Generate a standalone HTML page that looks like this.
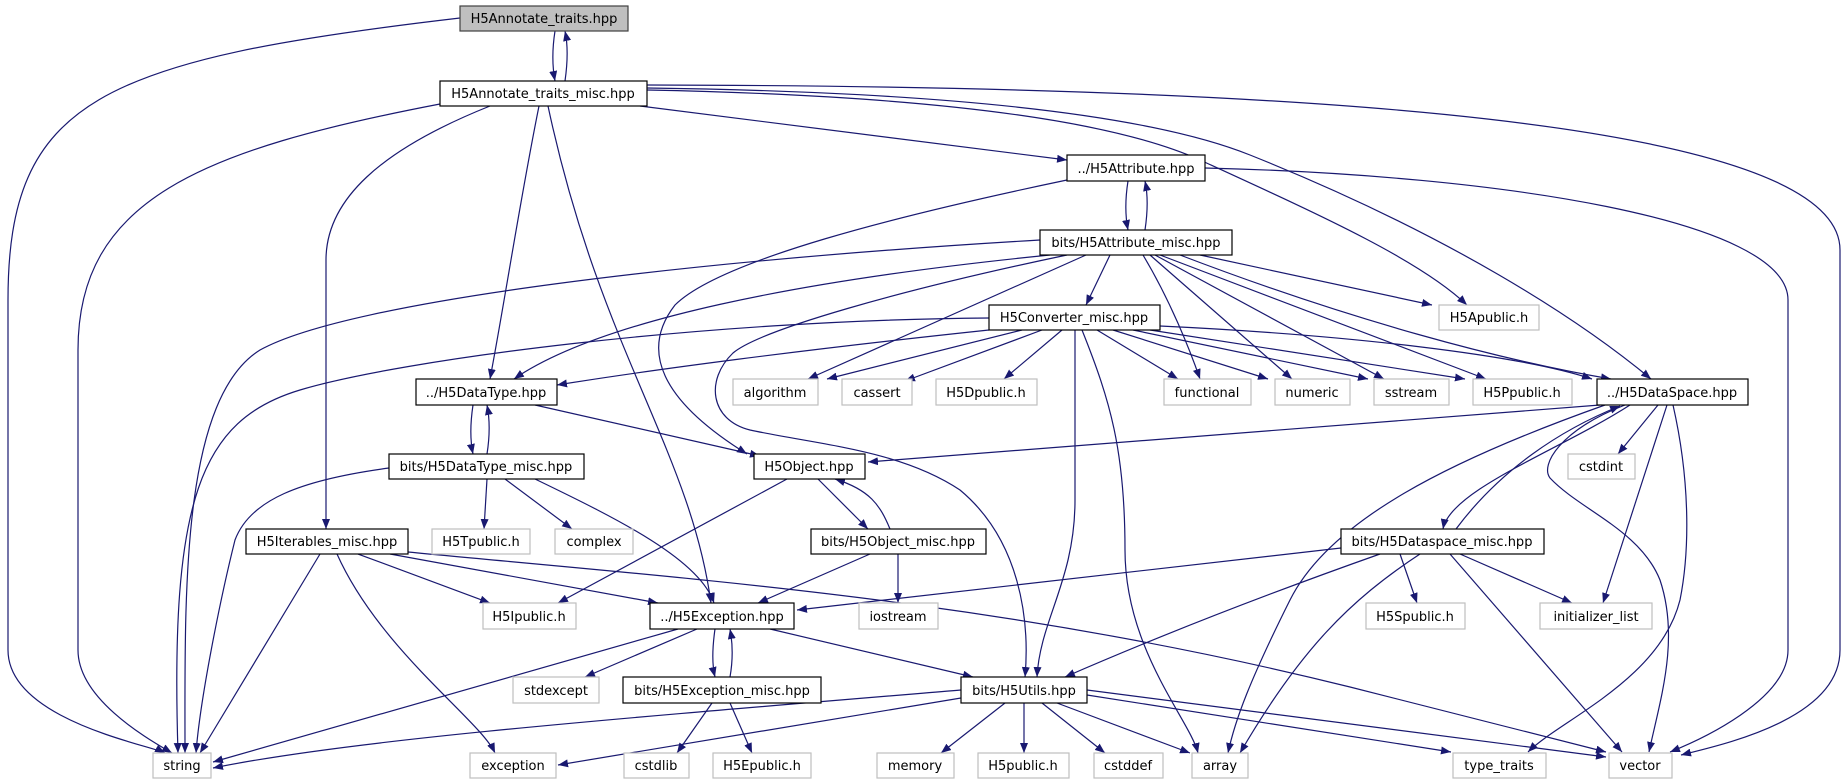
<!DOCTYPE html>
<html><head><meta charset="utf-8"><style>
html,body{margin:0;padding:0;background:#fff;}
svg{display:block;}
text{font-family:"DejaVu Sans","Liberation Sans",sans-serif;font-size:13px;fill:#000;}
.e{fill:none;stroke:#191970;stroke-width:1.2;marker-end:url(#ah);}
.n{fill:#fff;stroke:#000;stroke-width:1.2;}
.g{fill:#fff;stroke:#bfbfbf;stroke-width:1.2;}
</style></head><body>
<svg width="1845" height="784" viewBox="0 0 1845 784" xmlns="http://www.w3.org/2000/svg">
<defs><marker id="ah" markerUnits="userSpaceOnUse" markerWidth="11" markerHeight="8" refX="10" refY="4" orient="auto"><path d="M0,0 L10,4 L0,8 Z" fill="#191970"/></marker></defs>
<g>
<path class="e" d="M460,18 C100,60 8,100 8,300 L8,650 C8,720 150,745 165,753"/>
<path class="e" d="M555,31 C552,50 552,65 555,81"/>
<path class="e" d="M565,81 C568,60 568,45 565,31"/>
<path class="e" d="M440,104 C200,150 78,200 78,350 L78,650 C78,700 150,740 172,753"/>
<path class="e" d="M490,106 C380,150 326,200 326,260 L326,529"/>
<path class="e" d="M539,106 C520,200 505,300 490,379"/>
<path class="e" d="M548,106 C600,350 690,450 711,603"/>
<path class="e" d="M640,106 L1067,160"/>
<path class="e" d="M647,90 C900,95 1100,115 1200,160 C1320,215 1420,260 1467,305"/>
<path class="e" d="M647,88 C950,92 1150,115 1250,155 C1450,235 1580,320 1651,379"/>
<path class="e" d="M647,85 C1300,86 1840,120 1840,250 L1840,650 C1840,720 1720,745 1681,755"/>
<path class="e" d="M1205,168 C1500,175 1788,220 1788,300 L1788,650 C1788,700 1700,740 1670,752"/>
<path class="e" d="M1128,181 C1125,200 1125,215 1128,230"/>
<path class="e" d="M1145,230 C1148,210 1148,195 1145,181"/>
<path class="e" d="M1067,180 C900,215 720,260 675,305 C640,350 660,400 747,454"/>
<path class="e" d="M1040,240 C700,260 350,300 260,350 C180,400 185,600 185,753"/>
<path class="e" d="M1050,255 C800,280 600,320 514,379"/>
<path class="e" d="M1086,255 L808,379"/>
<path class="e" d="M1067,255 C900,290 760,330 733,353 C705,380 710,420 750,430 C820,445 900,450 960,490 C1020,540 1030,620 1025,677"/>
<path class="e" d="M1110,255 L1086,305"/>
<path class="e" d="M1143,255 C1170,300 1190,350 1200,379"/>
<path class="e" d="M1150,255 L1292,379"/>
<path class="e" d="M1155,255 L1384,379"/>
<path class="e" d="M1160,255 L1486,379"/>
<path class="e" d="M1180,255 C1350,320 1500,360 1611,379"/>
<path class="e" d="M1200,255 L1432,305"/>
<path class="e" d="M989,318 C700,320 400,360 300,390 C200,420 170,500 178,753"/>
<path class="e" d="M989,330 C800,350 650,370 557,385"/>
<path class="e" d="M1022,330 L827,379"/>
<path class="e" d="M1042,330 L905,381"/>
<path class="e" d="M1062,330 L1004,379"/>
<path class="e" d="M1097,330 L1178,379"/>
<path class="e" d="M1113,330 L1268,379"/>
<path class="e" d="M1133,330 L1368,379"/>
<path class="e" d="M1150,330 L1465,379"/>
<path class="e" d="M1160,326 C1350,335 1520,355 1592,379"/>
<path class="e" d="M1075,330 L1075,500 C1075,580 1040,620 1037,677"/>
<path class="e" d="M1082,330 C1110,400 1125,450 1125,550 C1125,650 1190,720 1198,753"/>
<path class="e" d="M473,405 C470,425 470,440 473,454"/>
<path class="e" d="M487,454 C490,435 490,420 487,405"/>
<path class="e" d="M535,405 L760,456"/>
<path class="e" d="M1600,405 L868,462"/>
<path class="e" d="M1658,405 L1618,454"/>
<path class="e" d="M1605,405 C1450,460 1330,520 1290,600 C1250,680 1235,720 1228,753"/>
<path class="e" d="M1630,405 C1560,450 1450,490 1443,529"/>
<path class="e" d="M1456,529 C1500,470 1560,430 1620,406"/>
<path class="e" d="M1667,405 L1603,603"/>
<path class="e" d="M1625,405 C1560,430 1540,465 1550,478 C1580,510 1640,530 1660,580 C1680,640 1660,700 1649,752"/>
<path class="e" d="M1673,405 C1690,480 1690,550 1680,600 C1660,680 1560,720 1528,752"/>
<path class="e" d="M389,468 C300,480 250,500 235,540 C220,600 200,700 196,753"/>
<path class="e" d="M487,479 L484,529"/>
<path class="e" d="M505,479 L572,529"/>
<path class="e" d="M535,479 C620,520 700,560 714,603"/>
<path class="e" d="M787,479 L558,603"/>
<path class="e" d="M818,479 L868,529"/>
<path class="e" d="M890,529 C880,505 870,490 835,479"/>
<path class="e" d="M870,554 L758,603"/>
<path class="e" d="M898,554 L898,603"/>
<path class="e" d="M320,554 L200,753"/>
<path class="e" d="M337,554 C380,650 480,720 495,753"/>
<path class="e" d="M358,554 L490,603"/>
<path class="e" d="M390,554 L658,603"/>
<path class="e" d="M408,552 C700,580 1000,600 1350,687 L1606,752"/>
<path class="e" d="M1341,548 L797,610"/>
<path class="e" d="M1380,554 C1250,600 1150,640 1065,677"/>
<path class="e" d="M1400,554 L1417,603"/>
<path class="e" d="M1460,554 L1572,603"/>
<path class="e" d="M1450,554 L1622,752"/>
<path class="e" d="M1420,554 C1350,600 1300,650 1240,753"/>
<path class="e" d="M678,629 L213,762"/>
<path class="e" d="M697,629 L585,677"/>
<path class="e" d="M715,629 C712,650 712,665 715,677"/>
<path class="e" d="M730,677 C733,660 733,645 730,629"/>
<path class="e" d="M770,629 L973,677"/>
<path class="e" d="M712,703 L677,753"/>
<path class="e" d="M730,703 L752,753"/>
<path class="e" d="M961,690 C600,720 350,740 213,768"/>
<path class="e" d="M961,698 L558,765"/>
<path class="e" d="M1005,703 L941,753"/>
<path class="e" d="M1024,703 L1024,753"/>
<path class="e" d="M1042,703 L1105,753"/>
<path class="e" d="M1057,703 L1190,753"/>
<path class="e" d="M1087,695 L1451,752"/>
<path class="e" d="M1087,690 L1606,757"/>
</g>
<g>
<rect x="460" y="6" width="168" height="25" fill="#bfbfbf" stroke="#404040" stroke-width="1.2"/><text x="544" y="23" text-anchor="middle">H5Annotate_traits.hpp</text>
<rect class="n" x="440" y="81" width="207" height="25"/><text x="543" y="98" text-anchor="middle">H5Annotate_traits_misc.hpp</text>
<rect class="n" x="1067" y="155" width="138" height="26"/><text x="1136" y="173" text-anchor="middle">../H5Attribute.hpp</text>
<rect class="n" x="1040" y="230" width="192" height="25"/><text x="1136" y="247" text-anchor="middle">bits/H5Attribute_misc.hpp</text>
<rect class="n" x="989" y="305" width="171" height="25"/><text x="1074" y="322" text-anchor="middle">H5Converter_misc.hpp</text>
<rect class="g" x="1439" y="305" width="100" height="25"/><text x="1489" y="322" text-anchor="middle">H5Apublic.h</text>
<rect class="n" x="416" y="379" width="141" height="26"/><text x="486" y="397" text-anchor="middle">../H5DataType.hpp</text>
<rect class="g" x="733" y="379" width="85" height="26"/><text x="775" y="397" text-anchor="middle">algorithm</text>
<rect class="g" x="842" y="379" width="70" height="26"/><text x="877" y="397" text-anchor="middle">cassert</text>
<rect class="g" x="936" y="379" width="101" height="26"/><text x="986" y="397" text-anchor="middle">H5Dpublic.h</text>
<rect class="g" x="1164" y="379" width="87" height="26"/><text x="1207" y="397" text-anchor="middle">functional</text>
<rect class="g" x="1275" y="379" width="75" height="26"/><text x="1312" y="397" text-anchor="middle">numeric</text>
<rect class="g" x="1374" y="379" width="75" height="26"/><text x="1411" y="397" text-anchor="middle">sstream</text>
<rect class="g" x="1473" y="379" width="99" height="26"/><text x="1522" y="397" text-anchor="middle">H5Ppublic.h</text>
<rect class="n" x="1597" y="379" width="151" height="26"/><text x="1672" y="397" text-anchor="middle">../H5DataSpace.hpp</text>
<rect class="n" x="389" y="454" width="195" height="25"/><text x="486" y="471" text-anchor="middle">bits/H5DataType_misc.hpp</text>
<rect class="n" x="754" y="454" width="111" height="25"/><text x="809" y="471" text-anchor="middle">H5Object.hpp</text>
<rect class="g" x="1568" y="454" width="67" height="25"/><text x="1601" y="471" text-anchor="middle">cstdint</text>
<rect class="n" x="246" y="529" width="162" height="25"/><text x="327" y="546" text-anchor="middle">H5Iterables_misc.hpp</text>
<rect class="g" x="432" y="529" width="98" height="25"/><text x="481" y="546" text-anchor="middle">H5Tpublic.h</text>
<rect class="g" x="555" y="529" width="78" height="25"/><text x="594" y="546" text-anchor="middle">complex</text>
<rect class="n" x="811" y="529" width="175" height="25"/><text x="898" y="546" text-anchor="middle">bits/H5Object_misc.hpp</text>
<rect class="n" x="1341" y="529" width="203" height="25"/><text x="1442" y="546" text-anchor="middle">bits/H5Dataspace_misc.hpp</text>
<rect class="g" x="483" y="603" width="93" height="26"/><text x="529" y="621" text-anchor="middle">H5Ipublic.h</text>
<rect class="n" x="650" y="603" width="144" height="26"/><text x="722" y="621" text-anchor="middle">../H5Exception.hpp</text>
<rect class="g" x="859" y="603" width="79" height="26"/><text x="898" y="621" text-anchor="middle">iostream</text>
<rect class="g" x="1366" y="603" width="99" height="26"/><text x="1415" y="621" text-anchor="middle">H5Spublic.h</text>
<rect class="g" x="1540" y="603" width="112" height="26"/><text x="1596" y="621" text-anchor="middle">initializer_list</text>
<rect class="g" x="513" y="677" width="86" height="26"/><text x="556" y="695" text-anchor="middle">stdexcept</text>
<rect class="n" x="623" y="677" width="198" height="26"/><text x="722" y="695" text-anchor="middle">bits/H5Exception_misc.hpp</text>
<rect class="n" x="961" y="677" width="126" height="26"/><text x="1024" y="695" text-anchor="middle">bits/H5Utils.hpp</text>
<rect class="g" x="153" y="753" width="58" height="25"/><text x="182" y="770" text-anchor="middle">string</text>
<rect class="g" x="470" y="753" width="86" height="25"/><text x="513" y="770" text-anchor="middle">exception</text>
<rect class="g" x="624" y="753" width="65" height="25"/><text x="656" y="770" text-anchor="middle">cstdlib</text>
<rect class="g" x="713" y="753" width="98" height="25"/><text x="762" y="770" text-anchor="middle">H5Epublic.h</text>
<rect class="g" x="877" y="753" width="77" height="25"/><text x="915" y="770" text-anchor="middle">memory</text>
<rect class="g" x="978" y="753" width="91" height="25"/><text x="1023" y="770" text-anchor="middle">H5public.h</text>
<rect class="g" x="1094" y="753" width="69" height="25"/><text x="1128" y="770" text-anchor="middle">cstddef</text>
<rect class="g" x="1192" y="753" width="56" height="25"/><text x="1220" y="770" text-anchor="middle">array</text>
<rect class="g" x="1453" y="753" width="93" height="25"/><text x="1499" y="770" text-anchor="middle">type_traits</text>
<rect class="g" x="1609" y="753" width="63" height="25"/><text x="1640" y="770" text-anchor="middle">vector</text>
</g>
</svg>
</body></html>
